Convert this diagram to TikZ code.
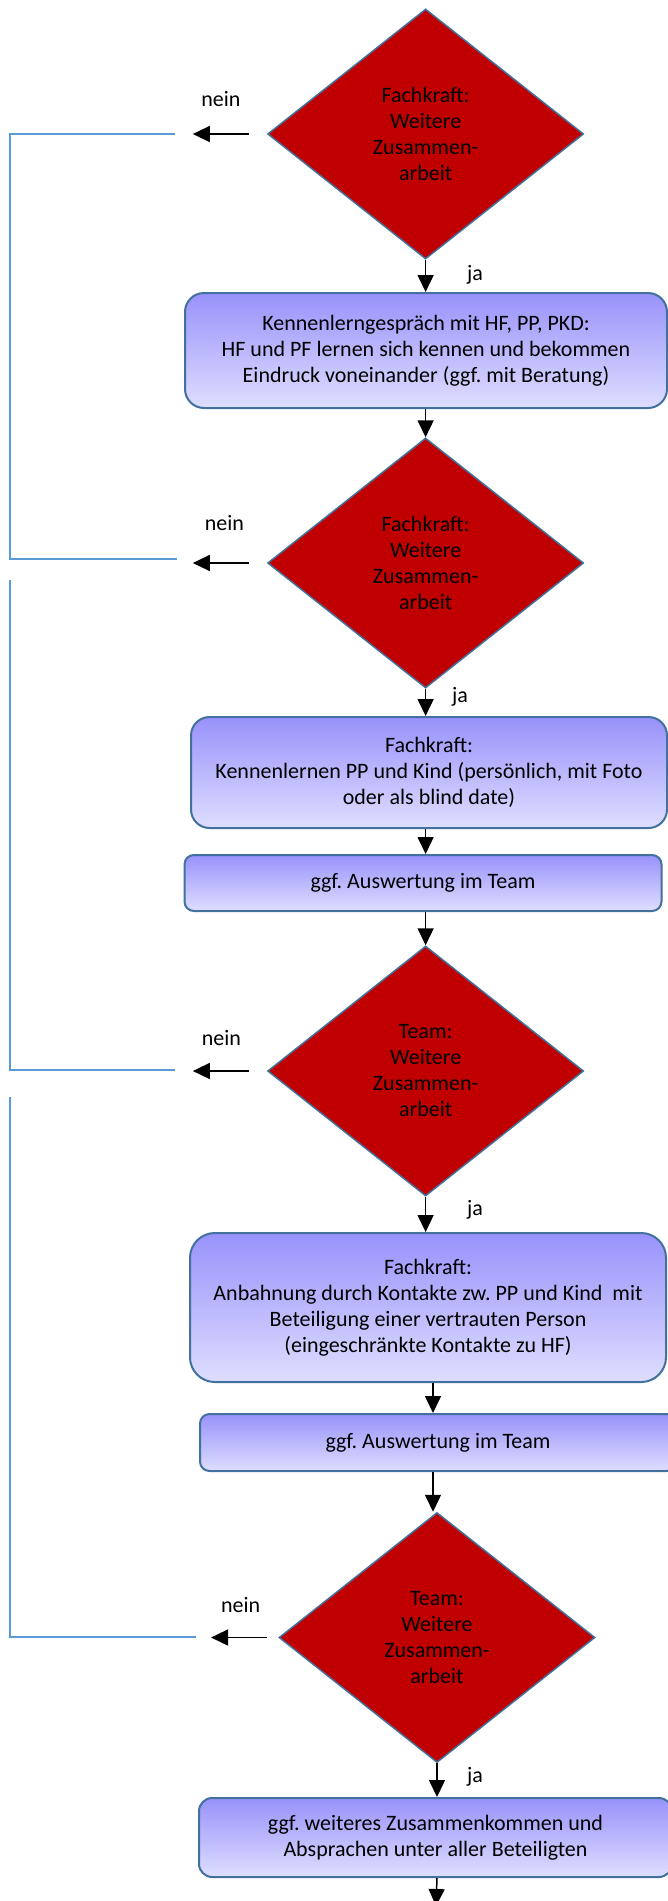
\documentclass[tikz,border=0pt]{standalone}
\usepackage{fontspec}
\setmainfont{Carlito}
\frenchspacing
\usetikzlibrary{arrows.meta,shapes.geometric}
\definecolor{boxtop}{RGB}{152,146,250}
\definecolor{boxbot}{RGB}{222,222,255}
\definecolor{edge}{RGB}{65,113,156}
\definecolor{dred}{RGB}{192,0,0}
\definecolor{loopblue}{RGB}{91,155,213}
\begin{document}
\begin{tikzpicture}[x=0.5pt,y=-0.5pt,
  every node/.style={font=\fontsize{11}{13}\selectfont},
  stepbox/.style={draw=edge, line width=1pt, top color=boxtop, bottom color=boxbot, align=center, inner sep=0pt},
  decision/.style={diamond, draw=edge, line width=0.75pt, fill=dred, align=center, inner sep=0pt, shape aspect=1.264, minimum width=158pt, minimum height=125pt},
  arr/.style={-{Triangle[width=8pt,length=8.5pt]}, line width=0.75pt, draw=black},
  loopline/.style={draw=loopblue, line width=0.75pt},
  lbl/.style={inner sep=0pt}
]
\fill[white] (0,0) rectangle (668,1901);
\useasboundingbox (0,0) rectangle (668,1901);

% decisions and steps
\node[decision] (d1) at (425.6,134) {Fachkraft:\\Weitere\\Zusammen-\\arbeit};
\node[stepbox, minimum width=241pt, minimum height=57.5pt, rounded corners=9.5pt] (b1) at (426,350.5) {Kennenlerngespräch mit HF, PP, PKD:\\HF und PF lernen sich kennen und bekommen\\Eindruck voneinander (ggf. mit Beratung)};
\node[decision] (d2) at (425.6,563) {Fachkraft:\\Weitere\\Zusammen-\\arbeit};
\node[stepbox, minimum width=238pt, minimum height=55.5pt, rounded corners=9.25pt] (b2) at (429,772.5) {Fachkraft:\\Kennenlernen PP und Kind (persönlich, mit Foto\\oder als blind date)};
\node[stepbox, minimum width=238.5pt, minimum height=28pt, rounded corners=4.7pt] (b3) at (423,883) {ggf. Auswertung im Team};
\node[decision] (d3) at (425.6,1071) {Team:\\Weitere\\Zusammen-\\arbeit};
\node[stepbox, minimum width=238pt, minimum height=74.5pt, rounded corners=12.4pt] (b4) at (428,1307.5) {Fachkraft:\\Anbahnung durch Kontakte zw. PP und Kind\ \ mit\\Beteiligung einer vertrauten Person\\(eingeschränkte Kontakte zu HF)};
\node[stepbox, minimum width=238pt, minimum height=28.5pt, rounded corners=4.75pt] (b5) at (438,1442.5) {ggf. Auswertung im Team};
\node[decision] (d4) at (437,1637.5) {Team:\\Weitere\\Zusammen-\\arbeit};
\node[stepbox, minimum width=236.5pt, minimum height=39.5pt, rounded corners=6.6pt] (b6) at (435.5,1837.5) {ggf. weiteres Zusammenkommen und\\Absprachen unter aller Beteiligten};

% labels
\node[lbl] (n1) at (221,99) {nein};
\node[lbl] (n2) at (224.5,523) {nein};
\node[lbl] (n3) at (221.5,1038) {nein};
\node[lbl] (n4) at (240.7,1605) {nein};
\node[lbl] (j1) at (475,275) {ja};
\node[lbl] (j2) at (460,697) {ja};
\node[lbl] (j3) at (475,1210) {ja};
\node[lbl] (j4) at (475,1777) {ja};

% main flow
\draw[arr] (d1.south) -- (d1.south |- b1.north);
\draw[arr] (d2.north |- b1.south) -- (d2.north);
\draw[arr] (d2.south) -- (d2.south |- b2.north);
\draw[arr] (d2.south |- b2.south) -- (d2.south |- b3.north);
\draw[arr] (d3.north |- b3.south) -- (d3.north);
\draw[arr] (d3.south) -- (d3.south |- b4.north);
\draw[arr] ([xshift=2.5pt]b4.south) -- ([xshift=2.5pt]b4.south |- b5.north);
\draw[arr] ([xshift=2.5pt]b4.south |- b5.south) -- ([xshift=2.5pt]b4.south |- d4.north);
\draw[arr] (d4.south) -- (d4.south |- b6.north);
\coordinate (fin) at (436,1906);
\draw[arr] (d4.south |- b6.south) -- (fin);

% nein arrows
\draw[arr] ([xshift=-9pt]d1.west) -- ([xshift=-37pt]d1.west);
\draw[arr] ([xshift=-9pt]d2.west) -- ([xshift=-37pt]d2.west);
\draw[arr] ([xshift=-9pt]d3.west) -- ([xshift=-37pt]d3.west);
\draw[arr] ([xshift=-5.7pt]d4.west) -- ([xshift=-33.6pt]d4.west);

% return lines
\coordinate (r1a) at (175,134);
\coordinate (r1b) at (10,559);
\coordinate (r1c) at (177,559);
\coordinate (r2a) at (10,580);
\coordinate (r2b) at (175,1070);
\coordinate (r3a) at (10,1097);
\coordinate (r3b) at (196,1637);
\draw[loopline] (r1a) -| (r1b) -- (r1c);
\draw[loopline] (r2a) |- (r2b);
\draw[loopline] (r3a) |- (r3b);
\end{tikzpicture}
\end{document}
